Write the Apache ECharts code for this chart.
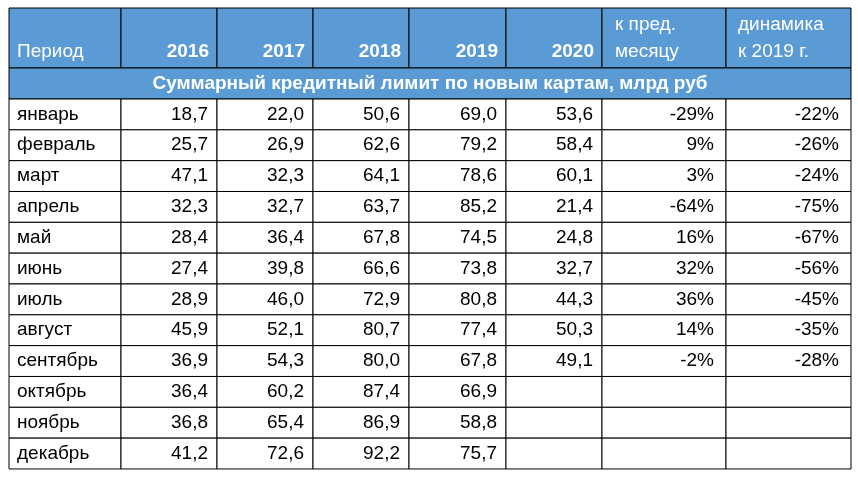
<!DOCTYPE html>
<html><head><meta charset="utf-8">
<script src="https://cdn.jsdelivr.net/npm/echarts@6/dist/echarts.min.js"></script>
<style>html,body{margin:0;padding:0;background:#fff}#c{width:858px;height:478px}</style>
</head><body><div id="c"></div>
<script>
const headers = ['Период','2016','2017','2018','2019','2020','к пред.\nмесяцу','динамика\nк 2019 г.'];
const title = 'Суммарный кредитный лимит по новым картам, млрд руб';
const months = ['январь','февраль','март','апрель','май','июнь','июль','август','сентябрь','октябрь','ноябрь','декабрь'];
const v2016 = ['18,7','25,7','47,1','32,3','28,4','27,4','28,9','45,9','36,9','36,4','36,8','41,2'];
const v2017 = ['22,0','26,9','32,3','32,7','36,4','39,8','46,0','52,1','54,3','60,2','65,4','72,6'];
const v2018 = ['50,6','62,6','64,1','63,7','67,8','66,6','72,9','80,7','80,0','87,4','86,9','92,2'];
const v2019 = ['69,0','79,2','78,6','85,2','74,5','73,8','80,8','77,4','67,8','66,9','58,8','75,7'];
const v2020 = ['53,6','58,4','60,1','21,4','24,8','32,7','44,3','50,3','49,1','','',''];
const momPct = ['-29%','9%','3%','-64%','16%','32%','36%','14%','-2%','','',''];
const yoyPct = ['-22%','-26%','-24%','-75%','-67%','-56%','-45%','-35%','-28%','','',''];

const colEdges = [9,121,217,313,409,506,602,726,851];
const topY = 8, headY = 68, titleY = 99, rowH = 30.83;
const FONT = '"Liberation Sans", sans-serif';
const BLUE = '#5B9BD5';

const cols = [months, v2016, v2017, v2018, v2019, v2020, momPct, yoyPct];
const data = [];
headers.forEach((h, c) => data.push([c, -2, h]));
data.push([0, -1, title]);
for (let r = 0; r < 12; r++) for (let c = 0; c < 8; c++) data.push([c, r, cols[c][r]]);

function rowTop(r){ return r===-2?topY:(r===-1?headY:titleY + r*rowH); }
function rowBot(r){ return r===-2?headY:(r===-1?titleY:titleY + (r+1)*rowH); }

const chart = echarts.init(document.getElementById('c'));
chart.setOption({
  animation:false,
  grid:{left:0,right:0,top:0,bottom:0},
  xAxis:{type:'value',min:0,max:858,show:false},
  yAxis:{type:'value',min:0,max:478,inverse:true,show:false},
  series:[{
    type:'custom', coordinateSystem:'cartesian2d', data:data,
    renderItem:function(params, api){
      const c = api.value(0), r = api.value(1);
      const txt = data[params.dataIndex][2];
      const span = r===-1;
      const p0 = api.coord([colEdges[c], rowTop(r)]);
      const p1 = api.coord([span?colEdges[8]:colEdges[c+1], rowBot(r)]);
      const w = p1[0]-p0[0], h = p1[1]-p0[1];
      const children = [{type:'rect', shape:{x:p0[0],y:p0[1],width:w,height:h},
        style:{fill:r<0?BLUE:'#fff', stroke:'#000', lineWidth:1}}];
      let tx, align, ty, vAlign='middle', color='#000', weight='normal';
      if (r===-2){
        color='#fff'; weight = (c>=1&&c<=5)?'bold':'normal';
        vAlign='bottom'; ty=p1[1]-3;
        if (c===0){tx=p0[0]+8;align='left';}
        else if (c>=6){tx=p0[0]+(c===6?13:12);align='left';}
        else {tx=p1[0]-8;align='right';}
      } else if (r===-1){
        color='#fff'; weight='bold'; tx=(p0[0]+p1[0])/2; align='center'; ty=(p0[1]+p1[1])/2;
      } else {
        ty=(p0[1]+p1[1])/2;
        if (c===0){tx=p0[0]+8;align='left';} else {tx=p1[0]-(c>=6?12:9);align='right';}
      }
      children.push({type:'text', style:{text:txt,x:tx,y:ty,align:align,verticalAlign:vAlign,
        fill:color,fontFamily:FONT,fontSize:19,fontWeight:weight,lineHeight:27}});
      return {type:'group', children:children};
    }
  }]
});
</script></body></html>
